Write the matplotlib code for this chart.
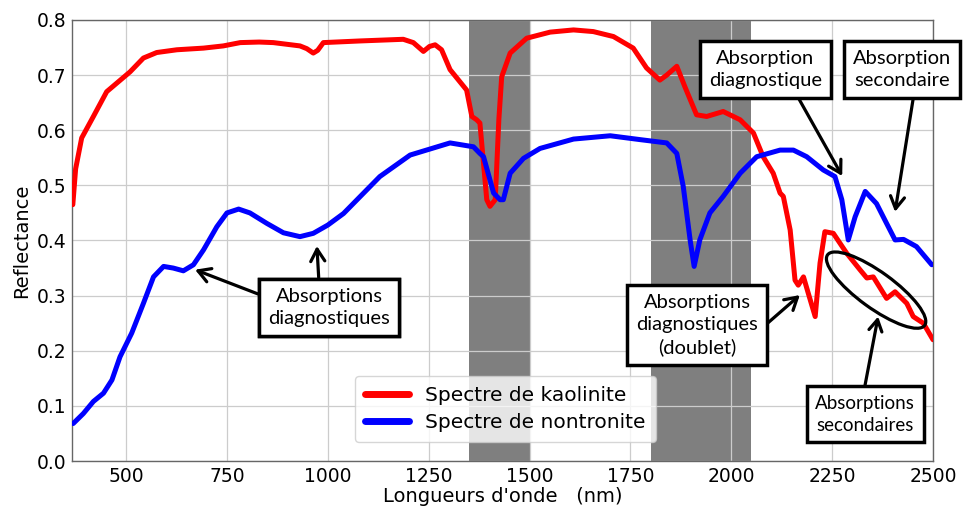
import matplotlib
matplotlib.use("Agg")
import matplotlib.pyplot as plt
from matplotlib.patches import Ellipse
from matplotlib.transforms import IdentityTransform

# Kaolinite spectrum (wavelength nm, reflectance)
kao_x = [368, 375, 390, 419, 452, 481, 510, 543, 576, 626, 692, 741, 783, 830, 865, 931, 948, 964, 975, 989,
         1080, 1187, 1212, 1237, 1252, 1266, 1282, 1303, 1344, 1357, 1369, 1377, 1394, 1402, 1415,
         1424, 1431, 1452, 1493, 1551, 1609, 1658, 1708, 1757, 1790, 1823, 1840, 1865, 1885, 1914,
         1939, 1980, 2022, 2055, 2079, 2104, 2121, 2129, 2146, 2158, 2166, 2179, 2191, 2208, 2220,
         2232, 2253, 2286, 2319, 2336, 2352, 2385, 2406, 2435, 2451, 2476, 2500]
kao_y = [0.465, 0.530, 0.586, 0.625, 0.670, 0.688, 0.706, 0.731, 0.741, 0.746, 0.749, 0.753, 0.759,
         0.760, 0.759, 0.753, 0.748, 0.740, 0.745, 0.759, 0.762, 0.765, 0.759, 0.743, 0.752, 0.755,
         0.746, 0.710, 0.673, 0.625, 0.619, 0.613, 0.474, 0.462, 0.474, 0.620, 0.697, 0.740, 0.767,
         0.778, 0.782, 0.779, 0.770, 0.749, 0.713, 0.691, 0.700, 0.716, 0.679, 0.628, 0.625, 0.634,
         0.619, 0.595, 0.552, 0.522, 0.486, 0.480, 0.419, 0.328, 0.319, 0.334, 0.304, 0.262, 0.359,
         0.416, 0.413, 0.377, 0.347, 0.332, 0.334, 0.295, 0.307, 0.286, 0.262, 0.250, 0.220]

# Nontronite spectrum
non_x = [369, 394, 419, 444, 465, 485, 514, 543, 568, 593, 617, 642, 667, 692, 725, 750, 779, 807,
         849, 890, 931, 964, 1000, 1039, 1129, 1204, 1303, 1361, 1377, 1386, 1411, 1427, 1435, 1452,
         1485, 1526, 1609, 1700, 1774, 1840, 1865, 1881, 1898, 1908, 1922, 1947, 1980, 2022, 2063,
         2121, 2154, 2187, 2228, 2257, 2274, 2290, 2307, 2332, 2360, 2385, 2406, 2427, 2459, 2497]
non_y = [0.068, 0.086, 0.108, 0.123, 0.147, 0.189, 0.232, 0.286, 0.334, 0.353, 0.350, 0.345, 0.356,
         0.383, 0.425, 0.450, 0.457, 0.450, 0.431, 0.414, 0.407, 0.413, 0.428, 0.449, 0.516, 0.555,
         0.577, 0.570, 0.558, 0.552, 0.486, 0.474, 0.474, 0.522, 0.549, 0.567, 0.584, 0.590, 0.583,
         0.577, 0.558, 0.498, 0.401, 0.353, 0.401, 0.450, 0.480, 0.522, 0.552, 0.564, 0.564, 0.552,
         0.528, 0.516, 0.474, 0.401, 0.443, 0.489, 0.467, 0.431, 0.401, 0.402, 0.389, 0.356]

bands = [(1350, 1500), (1800, 2050)]
labels = ["Spectre de kaolinite", "Spectre de nontronite"]
xticks = [500, 750, 1000, 1250, 1500, 1750, 2000, 2250, 2500]
yticks = [0.0, 0.1, 0.2, 0.3, 0.4, 0.5, 0.6, 0.7, 0.8]

W, H = 964, 511
fig = plt.figure(figsize=(W / 100, H / 100), dpi=100)
ax = fig.add_axes([72 / W, 1 - 461 / H, (933 - 72) / W, (461 - 20) / H])
ax.set_axisbelow("line")

for a, b in bands:
    ax.axvspan(a, b, color="#7f7f7f", lw=0, zorder=1)

ax.plot(kao_x, kao_y, color="#ff0000", lw=3.6, label=labels[0], zorder=3,
        solid_joinstyle="round", solid_capstyle="round")
ax.plot(non_x, non_y, color="#0000ff", lw=3.6, label=labels[1], zorder=3,
        solid_joinstyle="round", solid_capstyle="round")

ax.set_xlim(366, 2500)
ax.set_ylim(0, 0.8)
ax.set_xticks(xticks)
ax.set_yticks(yticks)
ax.set_yticklabels([f"{v:.1f}" for v in yticks])
ax.grid(True, color="#cccccc", lw=0.9)
ax.tick_params(labelsize=13.5, length=0, pad=4)
for s in ax.spines.values():
    s.set_color("#666666")
    s.set_linewidth(1.0)

ax.set_xlabel("Longueurs d'onde   (nm)", fontsize=14, labelpad=1)
ax.set_ylabel("Reflectance", fontsize=14, labelpad=4)

leg = ax.legend(loc="lower center", bbox_to_anchor=(0.503, 0.02), fontsize=14.5,
                handlelength=2.2, framealpha=0.8, borderpad=0.5, labelspacing=0.4)
for ln in leg.get_lines():
    ln.set_linewidth(5)

boxfont = "Lato"
bbox = dict(boxstyle="square,pad=0.45", fc="white", ec="black", lw=2.5)
ap = dict(arrowstyle="->,head_length=0.6,head_width=0.35", color="black", lw=2.3,
          shrinkA=0, shrinkB=0)

def note(text, target, center, rel, fs=14.5):
    p = dict(ap)
    p["relpos"] = rel
    ax.annotate(text, xy=target, xytext=center, ha="center", va="center",
                fontsize=fs, family=boxfont, bbox=bbox, arrowprops=p,
                annotation_clip=False, zorder=6, linespacing=1.35)

note("Absorptions\ndiagnostiques", (671, 0.347), (1003, 0.279), (0.0, 0.74))
note("Absorptions\ndiagnostiques", (973, 0.39), (1003, 0.279), (0.42, 1.0))
note("Absorptions\ndiagnostiques\n(doublet)", (2170, 0.301), (1915, 0.247), (1.0, 0.39))
note("Absorption\ndiagnostique", (2275, 0.517), (2084, 0.710), (0.75, 0.0))
note("Absorption\nsecondaire", (2406, 0.452), (2423, 0.710), (0.63, 0.0))
note("Absorptions\nsecondaires", (2364, 0.262), (2332, 0.085), (0.48, 1.0), fs=13.5)

fig.canvas.draw()
cx, cy = ax.transData.transform((2359, 0.310))
ell = Ellipse((cx, cy), 120, 36, angle=-36, fill=False, ec="black", lw=2.3,
              transform=IdentityTransform(), zorder=5)
ax.add_artist(ell)

fig.savefig("out.png", dpi=100)
